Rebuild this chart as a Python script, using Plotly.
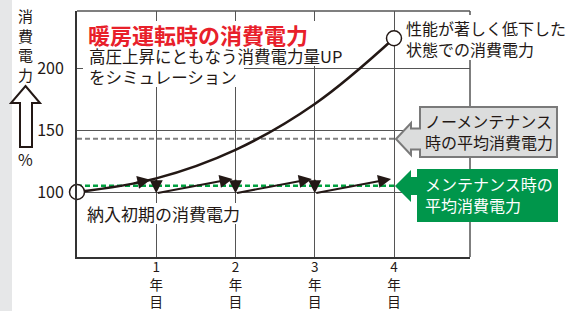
import plotly.graph_objects as go

# ---- data ----
years = [0, 1, 2, 3, 4]
degraded = [100, 111, 134, 171, 224]          # 性能が著しく低下した状態での消費電力
maint_start_years = [1, 2, 3]                 # メンテナンス直後
maint_low = [99, 99, 99]
maint_peak_years = [2, 3, 4]                  # 次回メンテナンス前
maint_high = [111, 111, 111]
no_maint_avg = 143                            # ノーメンテナンス時の平均消費電力
maint_avg = 105                               # メンテナンス時の平均消費電力
ytick_vals = [100, 150, 200]
ytick_text = ["100", "150", "200"]
xtick_vals = [1, 2, 3, 4]
xtick_text = ["1<br>年<br>目", "2<br>年<br>目", "3<br>年<br>目", "4<br>年<br>目"]

W, H = 566, 311
L, R, T, B = 77, 96, 11, 54
PW, PH = W - L - R, H - T - B

def px(x):
    return (x - L) / PW

def py(y):
    return (H - B - y) / PH

FONT = "Noto Sans CJK JP"
TXT = "#231815"
RED = "#e8202a"
GREEN = "#00964b"
GDASH = "#00a040"

fig = go.Figure()

# average lines
fig.add_trace(go.Scatter(x=[years[0], years[-1]], y=[no_maint_avg] * 2, mode="lines",
                         line=dict(color="#808080", width=2, dash="5px,3px"), hoverinfo="skip"))
fig.add_trace(go.Scatter(x=[years[0], years[-1]], y=[maint_avg] * 2, mode="lines",
                         line=dict(color=GDASH, width=2.5, dash="5px,3px"), hoverinfo="skip"))
# degraded curve
fig.add_trace(go.Scatter(x=years, y=degraded, mode="lines", line=dict(color=TXT, width=2.5, shape="spline", smoothing=1.1),
                         hoverinfo="skip"))
# endpoints
fig.add_trace(go.Scatter(x=[years[0], years[-1]], y=[degraded[0], degraded[-1]], mode="markers",
                         marker=dict(size=15, color="white", line=dict(color=TXT, width=1.5)),
                         cliponaxis=False, hoverinfo="skip"))

annotations = []
arrow_common = dict(xref="x", yref="y", axref="x", ayref="y", text="", showarrow=True,
                    arrowhead=2, arrowsize=1.3, arrowwidth=2, arrowcolor=TXT)
# arrowhead on curve just before year 1
annotations.append(dict(x=years[1], y=degraded[1], ax=years[1] - 0.3,
                        ay=degraded[0] + (degraded[1] - degraded[0]) * 0.62, standoff=6, **arrow_common))
# sawtooth
prev_tops = [degraded[1]] + maint_high[:-1]
for i in range(3):
    annotations.append(dict(x=maint_start_years[i], y=maint_low[i], ax=maint_start_years[i], ay=prev_tops[i],
                            standoff=0, **arrow_common))
    annotations.append(dict(x=maint_peak_years[i], y=maint_high[i], ax=maint_start_years[i], ay=maint_low[i],
                            standoff=3, **arrow_common))

def label(text, x, y, size, color=TXT, bold=False, anchor="left"):
    t = f"<b>{text}</b>" if bold else text
    annotations.append(dict(xref="paper", yref="paper", x=px(x), y=py(y), text=t, showarrow=False,
                            xanchor=anchor, yanchor="middle", align=anchor, borderpad=0,
                            font=dict(family=FONT, size=size, color=color)))

label("暖房運転時の消費電力", 87, 34, 22, RED, bold=True)
label("高圧上昇にともなう消費電力量UP<br>をシミュレーション", 88, 66.5, 16.5)
label("性能が著しく低下した<br>状態での消費電力", 405, 39, 16)
label("ノーメンテナンス<br>時の平均消費電力", 424, 131.5, 16)
label("メンテナンス時の<br>平均消費電力", 424, 194.5, 16, "white")
label("納入初期の消費電力", 86, 213, 17)
label("消<br>費<br>電<br>力", 25, 45, 15, anchor="center")
label("%", 25, 159, 16, anchor="center")

shapes = []
# left gray strip
shapes.append(dict(type="rect", xref="paper", yref="paper", x0=px(0), x1=px(12), y0=py(H), y1=py(0),
                   fillcolor="#e6e7e8", line=dict(width=0), layer="below"))
# top & right border
shapes.append(dict(type="line", xref="paper", yref="paper", x0=0, x1=1, y0=1, y1=1,
                   line=dict(color="#555", width=1.5), layer="above"))
shapes.append(dict(type="line", xref="paper", yref="paper", x0=1, x1=1, y0=0, y1=1,
                   line=dict(color="#555", width=1.5), layer="above"))

def wrect(x0, y0, x1, y1):
    shapes.append(dict(type="rect", xref="paper", yref="paper", x0=px(x0), x1=px(x1), y0=py(y1), y1=py(y0),
                       fillcolor="white", line=dict(width=0), layer="above"))

wrect(83, 21, 322, 46)
wrect(83, 46, 357, 66)
wrect(83, 66, 244, 87)
wrect(403, 15, 566, 60)
wrect(83, 203, 249, 224)

def path(pts):
    return "M " + " L ".join(f"{px(a):.5f},{py(b):.5f}" for a, b in pts) + " Z"

gray_pts = [(396, 139), (411, 123), (411, 128.5), (420, 128.5), (420, 107), (557, 107), (557, 157),
            (420, 157), (420, 149.5), (411, 149.5), (411, 155)]
shapes.append(dict(type="path", xref="paper", yref="paper", path=path(gray_pts),
                   fillcolor="#dcdddd", line=dict(color="#7a7a7a", width=2), layer="above"))
green_pts = [(395, 186), (411, 170), (411, 177), (417, 177), (417, 169), (558, 169), (558, 222),
             (417, 222), (417, 195), (411, 195), (411, 202)]
shapes.append(dict(type="path", xref="paper", yref="paper", path=path(green_pts),
                   fillcolor=GREEN, line=dict(width=0), layer="above"))
# y-axis up arrow
arrow_pts = [(25.5, 86), (40, 103), (32, 103), (32, 147), (20, 147), (20, 103), (11, 103)]
shapes.append(dict(type="path", xref="paper", yref="paper", path=path(arrow_pts),
                   fillcolor="white", line=dict(color=TXT, width=2), layer="above"))

fig.update_layout(
    width=W, height=H, margin=dict(l=L, r=R, t=T, b=B, pad=0, autoexpand=False),
    paper_bgcolor="white", plot_bgcolor="white", showlegend=False,
    font=dict(family=FONT, color=TXT),
    annotations=annotations, shapes=shapes,
    xaxis=dict(range=[0, PW / 79.25], tickvals=xtick_vals, ticktext=xtick_text, showgrid=True,
               gridcolor="#555", gridwidth=1, zeroline=False, showline=True, linecolor="#333",
               linewidth=2, ticks="", ticklabelstandoff=-3,
               tickfont=dict(family=FONT, size=13.5, color=TXT), fixedrange=True, automargin=False),
    yaxis=dict(range=[100 - (H - B - 192) / 1.24, 200 + (68 - T) / 1.24], tickvals=ytick_vals,
               ticktext=ytick_text, showgrid=True, gridcolor="#555", gridwidth=1, zeroline=False,
               showline=True, linecolor="#333", linewidth=2, ticks="", ticklabelstandoff=8,
               tickfont=dict(family=FONT, size=16, color=TXT), fixedrange=True, automargin=False),
)

fig.write_html("out.html", config={"displayModeBar": False, "staticPlot": True},
               post_script="document.body.style.margin='0';")
